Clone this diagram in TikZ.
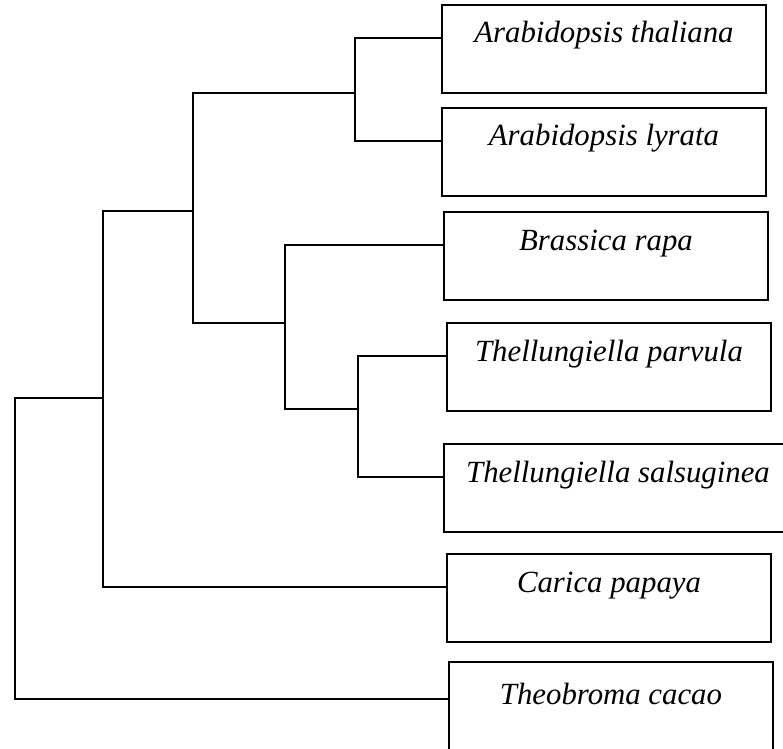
\documentclass[tikz,border=0pt]{standalone}
\usepackage{fontspec}
\setmainfont{Liberation Serif}
\usetikzlibrary{positioning}

\begin{document}
\begin{tikzpicture}[x=0.5pt,y=-0.5pt,line width=1pt,
  taxon/.style={draw,rectangle,inner sep=0pt,outer sep=0pt,minimum width=162pt,minimum height=44pt,
    text height=10.5pt,text depth=16.5pt,font=\fontsize{15.4}{18}\selectfont\itshape}]
\clip (0,0) rectangle (783,749);
% species boxes
\node[taxon,anchor=north west] (ath) at (442,5) {Arabidopsis thaliana};
\node[taxon,below=7.5pt of ath.south west,anchor=north west] (aly) {Arabidopsis lyrata};
\node[taxon,below=8pt of aly.south west,anchor=north west,xshift=1pt] (bra) {Brassica rapa};
\node[taxon,below=11.5pt of bra.south west,anchor=north west,xshift=1.5pt] (tpa) {Thellungiella parvula};
\node[taxon,below=16.5pt of tpa.south west,anchor=north west,xshift=-1.5pt,minimum width=174pt] (tsa) {Thellungiella salsuginea};
\node[taxon,below=11pt of tsa.south west,anchor=north west,xshift=1.5pt] (cpa) {Carica papaya};
\node[taxon,below=10pt of cpa.south west,anchor=north west,xshift=1pt,minimum height=48pt] (tca) {Theobroma cacao};
% tree
\coordinate (narab) at (355,93);
\coordinate (ncore) at (193,211);
\coordinate (nbra) at (285,323);
\coordinate (nthel) at (358,409);
\coordinate (ncruc) at (103,398);
\coordinate (nroot) at (15,398);
\draw (ath.mid west) -| (narab) |- (aly.mid west);
\draw (narab) -| (ncore) |- (nbra);
\draw (bra.mid west) -| (nbra) |- (nthel);
\draw (tpa.mid west) -| (nthel) |- (tsa.mid west);
\draw (ncore) -| (ncruc) |- (cpa.mid west);
\draw (ncruc) -| (nroot) |- (tca.mid west);
\end{tikzpicture}
\end{document}
